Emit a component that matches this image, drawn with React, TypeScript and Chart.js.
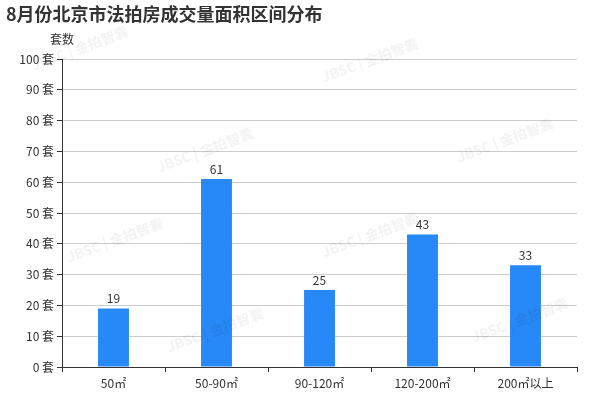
import React, { useEffect, useRef } from "react";
import { Chart, registerables } from "chart.js";

Chart.register(...registerables);

const TITLE = "8月份北京市法拍房成交量面积区间分布";
const Y_NAME = "套数";
const CATEGORIES = ["50㎡", "50-90㎡", "90-120㎡", "120-200㎡", "200㎡以上"];
const VALUES = [19, 61, 25, 43, 33];
const Y_MAX = 100;
const Y_STEP = 10;
const UNIT = " 套";
const WATERMARK = "JBSC | 金拍智囊";

const FONT = "'Noto Sans CJK SC', 'Noto Sans', sans-serif";

const overlay = {
  id: "overlay",
  afterDatasetsDraw(chart: any) {
    const ctx = chart.ctx;
    const area = chart.chartArea;
    ctx.save();
    // watermarks
    ctx.fillStyle = "rgba(0,0,0,0.05)";
    ctx.font = `bold 14px ${FONT}`;
    ctx.textAlign = "center";
    ctx.textBaseline = "middle";
    const marks = [
      [80, 48], [370, 60], [205, 150], [505, 140], [115, 240], [370, 235], [215, 330], [520, 320],
    ];
    for (const [x, y] of marks) {
      ctx.save();
      ctx.translate(x, y);
      ctx.rotate(-0.35);
      ctx.fillText(WATERMARK, 0, 0);
      ctx.restore();
    }
    // value labels
    const meta = chart.getDatasetMeta(0);
    ctx.fillStyle = "#333";
    ctx.font = `12px ${FONT}`;
    ctx.textAlign = "center";
    ctx.textBaseline = "bottom";
    meta.data.forEach((bar: any, i: number) => {
      ctx.fillText(String(VALUES[i]), bar.x, bar.y - 4);
    });
    // title
    ctx.fillStyle = "#333";
    ctx.font = `bold 18px ${FONT}`;
    ctx.textAlign = "left";
    ctx.textBaseline = "middle";
    ctx.fillText(TITLE, 6, 14);
    // y axis name
    ctx.font = `12px ${FONT}`;
    ctx.textAlign = "center";
    ctx.fillStyle = "#333";
    ctx.fillText(Y_NAME, area.left, area.top - 20);
    ctx.restore();
  },
};

export default function App() {
  const ref = useRef<HTMLCanvasElement>(null);
  useEffect(() => {
    document.body.style.margin = "0";
    const chart = new Chart(ref.current!, {
      type: "bar",
      data: {
        labels: CATEGORIES,
        datasets: [
          {
            data: VALUES,
            backgroundColor: "#2788f7",
            barPercentage: 0.6,
            categoryPercentage: 0.5,
          },
        ],
      },
      options: {
        responsive: false,
        animation: false,
        layout: { padding: { left: 8, right: 23, top: 59, bottom: 0 } },
        plugins: { legend: { display: false }, tooltip: { enabled: false } },
        scales: {
          x: {
            afterFit(scale: any) {
              scale.height = 33;
            },
            grid: { drawOnChartArea: false, tickLength: 5, tickColor: "#333", offset: true },
            border: { color: "#333" },
            ticks: { color: "#333", font: { size: 12, family: FONT }, padding: 4 },
          },
          y: {
            min: 0,
            max: Y_MAX,
            afterFit(scale: any) {
              scale.width = 54;
            },
            ticks: {
              stepSize: Y_STEP,
              color: "#333",
              font: { size: 12, family: FONT },
              padding: 3,
              callback: (v: any) => `${v}${UNIT}`,
            },
            grid: { color: "#ccc", tickLength: 5, tickColor: "#333" },
            border: { color: "#333" },
          },
        },
      },
      plugins: [overlay],
    });
    return () => chart.destroy();
  }, []);
  return (
    <div style={{ position: "fixed", left: 0, top: 0, width: 600, height: 400, background: "#fff" }}>
      <canvas ref={ref} width={600} height={400} />
    </div>
  );
}
